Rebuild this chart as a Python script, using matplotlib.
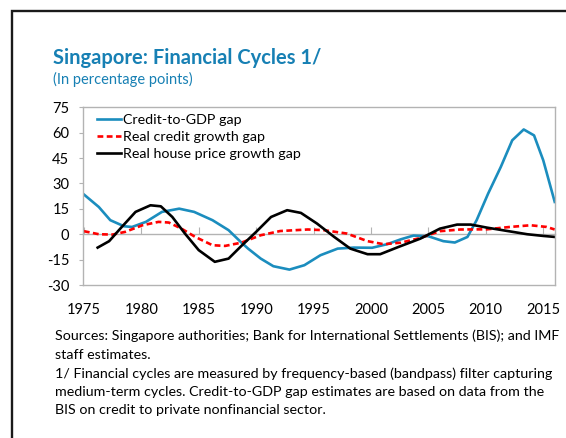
import matplotlib
matplotlib.use("Agg")
import matplotlib.pyplot as plt
from matplotlib.lines import Line2D

plt.rcParams['font.family'] = ['Lato', 'DejaVu Sans']
plt.rcParams['axes.unicode_minus'] = False

# ---- data ----
credit_gdp_years = [1975.0, 1976.3, 1977.3, 1978.5, 1979.2, 1980.4, 1981.8, 1983.3, 1984.6,
                    1986.2, 1987.6, 1988.65, 1989.3, 1990.4, 1991.5, 1992.9, 1994.2, 1995.6,
                    1997.1, 1998.5, 2000.1, 2001.4, 2002.6, 2003.7, 2005.0, 2006.3, 2007.3,
                    2008.4, 2009.2, 2010.2, 2011.3, 2012.3, 2013.3, 2014.2, 2015.0, 2016.0]
credit_gdp_gap = [23.5, 16.1, 8.3, 4.7, 4.3, 7.3, 13.2, 15.1, 13.2,
                  8.3, 2.4, -4.5, -8.5, -14.4, -18.9, -20.9, -18.3, -12.4,
                  -8.5, -7.9, -8.0, -5.9, -3.0, -0.8, -1.2, -4.1, -4.9,
                  -1.6, 8.3, 24.0, 39.7, 55.5, 61.9, 58.4, 43.7, 19.1]

real_credit_years = [1975.0, 1976.3, 1977.5, 1978.6, 1980.1, 1981.5, 1982.4, 1983.5, 1984.7,
                     1986.2, 1987.3, 1988.7, 1990.4, 1992.1, 1994.5, 1995.9, 1997.9, 1999.7,
                     2001.1, 2002.6, 2004.3, 2006.0, 2007.8, 2010.1, 2012.1, 2013.9, 2015.3,
                     2016.0]
real_credit_gap = [1.8, 0.0, -0.2, 1.4, 5.3, 7.3, 6.9, 3.3, -1.6,
                   -6.5, -6.9, -5.0, -0.6, 1.9, 2.8, 2.4, 0.4, -4.1,
                   -5.9, -5.0, -2.2, 1.8, 2.8, 2.9, 4.3, 5.3, 4.3,
                   2.8]

house_price_years = [1976.2, 1977.2, 1978.3, 1979.5, 1980.8, 1981.7, 1982.7, 1983.8, 1985.0,
                     1986.4, 1987.6, 1988.7, 1990.0, 1991.3, 1992.7, 1993.9, 1995.3, 1996.8,
                     1998.2, 1999.7, 2000.8, 2002.4, 2004.3, 2006.0, 2007.5, 2008.7, 2010.1,
                     2011.8, 2013.6, 2015.0, 2016.0]
house_price_gap = [-7.9, -4.1, 4.3, 13.2, 17.1, 16.5, 10.2, 0.4, -9.4,
                   -16.3, -14.4, -7.0, 1.4, 10.2, 14.2, 12.6, 6.3, -1.6,
                   -8.5, -11.8, -11.8, -7.5, -2.6, 3.3, 5.7, 5.7, 3.9,
                   2.0, 0.0, -1.0, -1.6]

series_labels = ["Credit-to-GDP gap", "Real credit growth gap", "Real house price growth gap"]
x_ticks = [1975, 1980, 1985, 1990, 1995, 2000, 2005, 2010, 2015]
y_ticks = [-30, -15, 0, 15, 30, 45, 60, 75]

title = "Singapore: Financial Cycles 1/"
subtitle = "(In percentage points)"
footnote_lines = [
    "Sources: Singapore authorities; Bank for International Settlements (BIS); and IMF",
    "staff estimates.",
    "1/ Financial cycles are measured by frequency-based (bandpass) filter capturing",
    "medium-term cycles. Credit-to-GDP gap estimates are based on data from the",
    "BIS on credit to private nonfinancial sector.",
]

# ---- styling ----
W, H = 566, 438
BLUE = "#1B8DBE"
TITLE_BLUE = "#1780B4"
RED = "#FF0000"
GRAY = "#b3b3b3"

fig = plt.figure(figsize=(W / 100, H / 100), dpi=100)
fig.patch.set_facecolor("white")

# panel frame (left + top)
fig.add_artist(Line2D([11.5 / W, 11.5 / W, 1.0], [0.0, 1 - 10.5 / H, 1 - 10.5 / H],
                      transform=fig.transFigure, color="#1a1a1a", lw=1.7,
                      solid_joinstyle="miter"))

left, right, top, bottom = 83.3, 555.3, 107.3, 285.0
ax = fig.add_axes([left / W, 1 - bottom / H, (right - left) / W, (bottom - top) / H])

ax.plot(credit_gdp_years, credit_gdp_gap, color=BLUE, lw=1.9, label=series_labels[0])
ax.plot(real_credit_years, real_credit_gap, color=RED, lw=1.9, linestyle=(0, (2.2, 1.3)),
        label=series_labels[1])
ax.plot(house_price_years, house_price_gap, color="black", lw=1.9, label=series_labels[2])

ax.set_xlim(1974.95, 2016.05)
ax.set_ylim(-30, 75)
ax.set_yticks(y_ticks)
ax.set_xticks(x_ticks)
for s in ax.spines.values():
    s.set_color(GRAY)
    s.set_linewidth(1.0)
ax.tick_params(axis="y", direction="out", length=3, color=GRAY, pad=7, labelsize=10.5,
               labelcolor="black")
ax.tick_params(axis="x", length=0, pad=13, labelsize=10.5, labelcolor="black")

# zero line with year ticks pointing up
sec = ax.secondary_xaxis(0, transform=ax.transData)
sec.set_xticks(x_ticks)
sec.tick_params(axis="x", direction="in", length=5, color=GRAY, labelbottom=False)
sec.spines["bottom"].set_color(GRAY)
sec.spines["bottom"].set_linewidth(1.0)

leg = ax.legend(loc="upper left", bbox_to_anchor=(0.029, 0.965), frameon=False,
                handlelength=1.65, handletextpad=0.15, labelspacing=0.38,
                borderaxespad=0, borderpad=0, fontsize=10.3)

fig.text(53.3 / W, 1 - 64 / H, title, color=TITLE_BLUE, fontsize=14.5, fontweight="bold",
         va="baseline", ha="left")
fig.text(53.3 / W, 1 - 84 / H, subtitle, color=TITLE_BLUE, fontsize=10.5, va="baseline",
         ha="left")

baselines = [340, 359, 377.5, 396, 414.5]
for line, yb in zip(footnote_lines, baselines):
    fig.text(55 / W, 1 - yb / H, line, fontsize=10.3, va="baseline", ha="left", color="black")

fig.savefig("out.png", dpi=100)
